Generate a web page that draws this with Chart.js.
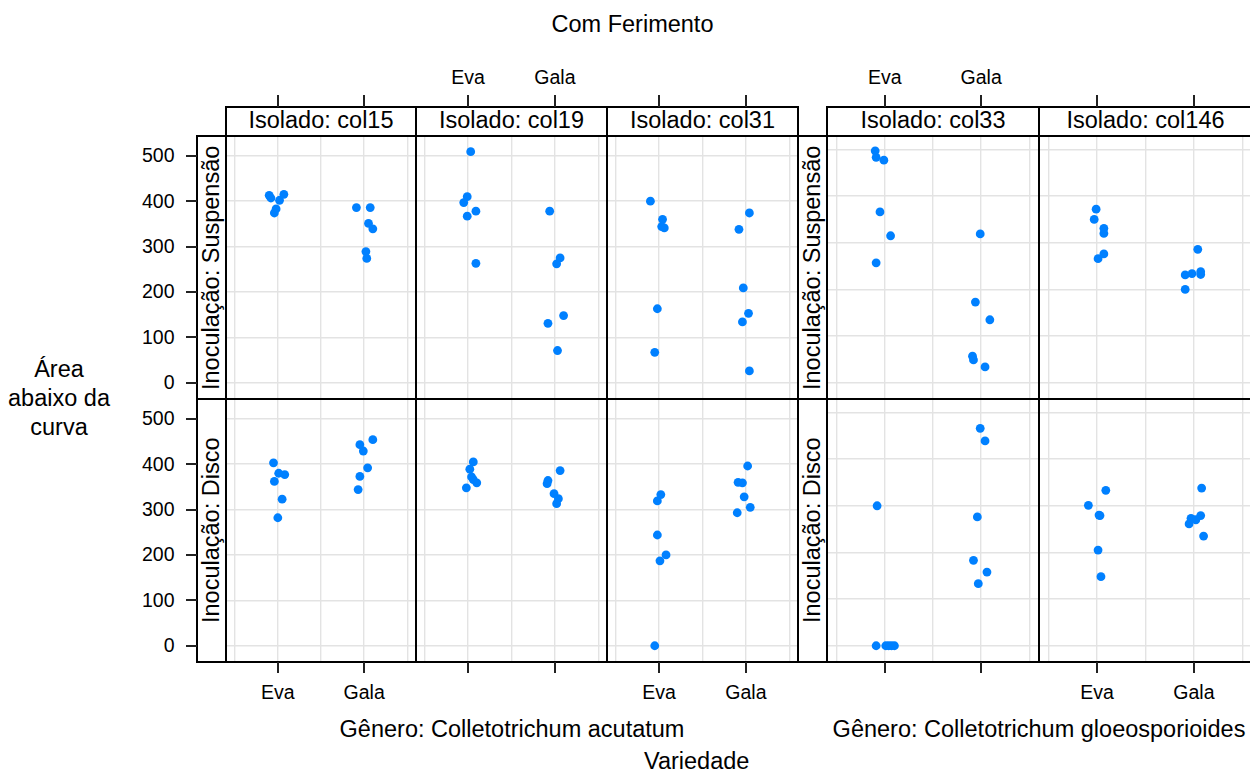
<!DOCTYPE html>
<html>
<head>
<meta charset="utf-8">
<script src="https://cdn.jsdelivr.net/npm/chart.js@4.4.1/dist/chart.umd.min.js"></script>
<style>
  body { margin: 0; background: #fff; overflow: hidden; width: 1250px; height: 774px; position: relative;
         font-family: "Liberation Sans", Arial, Helvetica, sans-serif; color: #000; }
  canvas { position: absolute; }
  .txt { position: absolute; white-space: nowrap; line-height: 1; }
  .box { position: absolute; border: 2px solid #000; box-sizing: border-box; }
  .tick { position: absolute; background: #222; }
  .vtxt { position: absolute; top: 0; height: 100%; writing-mode: vertical-rl; transform: rotate(180deg);
          text-align: center; white-space: nowrap; line-height: 1; }
</style>
</head>
<body>
<script>
// categories
const isolados = ['col15', 'col19', 'col31', 'col33', 'col146'];
const inoculacoes = ['Suspensão', 'Disco'];
const variedades = ['Eva', 'Gala'];
const generos = ['Gênero: Colletotrichum acutatum', 'Gênero: Colletotrichum gloeosporioides'];
const yTicks = [0, 100, 200, 300, 400, 500];
const xGrid = [0.5, 1, 1.5, 2, 2.5];

// values: first 6 = Eva, last 6 = Gala; *X = jittered position (Eva ~1, Gala ~2)
const suspCol15 = [413, 407, 415, 402, 383, 374, 386, 386, 351, 339, 289, 274];
const suspCol15X = [0.90, 0.92, 1.07, 1.02, 0.98, 0.96, 1.91, 2.07, 2.05, 2.10, 2.02, 2.03];
const suspCol19 = [509, 410, 397, 378, 367, 263, 378, 275, 262, 148, 131, 71];
const suspCol19X = [1.03, 0.99, 0.95, 1.09, 0.99, 1.09, 1.94, 2.06, 2.02, 2.10, 1.92, 2.03];
const suspCol31 = [400, 360, 344, 341, 163, 67, 374, 338, 209, 153, 134, 26];
const suspCol31X = [0.90, 1.04, 1.03, 1.06, 0.98, 0.95, 2.04, 1.92, 1.97, 2.03, 1.96, 2.04];
const suspCol33 = [497, 483, 477, 366, 315, 257, 319, 173, 135, 57, 49, 34];
const suspCol33X = [0.90, 0.91, 0.99, 0.95, 1.06, 0.91, 1.99, 1.94, 2.09, 1.91, 1.92, 2.04];
const suspCol146 = [372, 350, 331, 320, 276, 266, 286, 231, 234, 238, 232, 200];
const suspCol146X = [0.99, 0.97, 1.07, 1.07, 1.07, 1.01, 2.04, 1.91, 1.98, 2.07, 2.07, 1.91];

const discoCol15 = [403, 380, 377, 362, 323, 282, 454, 443, 429, 392, 373, 344];
const discoCol15X = [0.95, 1.01, 1.08, 0.96, 1.05, 1.00, 2.10, 1.95, 1.99, 2.04, 1.95, 1.93];
const discoCol19 = [405, 389, 372, 366, 359, 348, 386, 364, 357, 335, 324, 313];
const discoCol19X = [1.06, 1.02, 1.04, 1.06, 1.10, 0.98, 2.06, 1.92, 1.91, 1.99, 2.04, 2.02];
const discoCol31 = [333, 319, 244, 200, 187, 0, 396, 360, 359, 328, 305, 293];
const discoCol31X = [1.02, 0.98, 0.98, 1.08, 1.01, 0.95, 2.02, 1.91, 1.96, 1.98, 2.05, 1.90];
const discoCol33 = [300, 0, 0, 0, 0, 0, 466, 439, 276, 183, 158, 133];
const discoCol33X = [0.92, 0.91, 1.01, 1.04, 1.07, 1.10, 1.99, 2.04, 1.96, 1.92, 2.06, 1.97];
const discoCol146 = [333, 301, 280, 279, 205, 148, 338, 279, 273, 270, 261, 235];
const discoCol146X = [1.09, 0.91, 1.02, 1.03, 1.01, 1.04, 2.08, 2.07, 1.97, 2.02, 1.95, 2.10];

const panelY = [
  [suspCol15, suspCol19, suspCol31, suspCol33, suspCol146],
  [discoCol15, discoCol19, discoCol31, discoCol33, discoCol146]
];
const panelX = [
  [suspCol15X, suspCol19X, suspCol31X, suspCol33X, suspCol146X],
  [discoCol15X, discoCol19X, discoCol31X, discoCol33X, discoCol146X]
];

// layout
const FS = 23.5;      // main text size
const FS_TICK = 19.5; // tick labels
const rowEdges = [136, 399, 662];
const groups = [
  { cols: [0, 1, 2], edges: [226, 416, 607, 798], yMin: -35.8, yMax: 543.6, stripLeft: 197, labelX: 512, yAxis: true },
  { cols: [3, 4], edges: [827, 1039, 1252], yMin: -34.8, yMax: 528.8, stripLeft: 798, labelX: 1039, yAxis: false }
];
const topLabelCols = [1, 3];
const bottomLabelCols = [0, 2, 4];

function addText(s, x, base, size, align) {
  const d = document.createElement('div');
  d.className = 'txt';
  d.textContent = s;
  d.style.fontSize = size + 'px';
  d.style.top = (base - 0.8465 * size) + 'px';
  d.style.left = x + 'px';
  d.style.transform = align === 'right' ? 'translateX(-100%)' : 'translateX(-50%)';
  document.body.appendChild(d);
}

function addBox(x0, y0, x1, y1, bg) {
  const d = document.createElement('div');
  d.className = 'box';
  d.style.left = (x0 - 1) + 'px';
  d.style.top = (y0 - 1) + 'px';
  d.style.width = (x1 - x0 + 2) + 'px';
  d.style.height = (y1 - y0 + 2) + 'px';
  if (bg) d.style.background = bg;
  document.body.appendChild(d);
  return d;
}

function addTick(x, y, w, h) {
  const d = document.createElement('div');
  d.className = 'tick';
  d.style.left = x + 'px';
  d.style.top = y + 'px';
  d.style.width = w + 'px';
  d.style.height = h + 'px';
  document.body.appendChild(d);
}

function makePanel(left, top, w, h, xs, ys, yMin, yMax) {
  const cv = document.createElement('canvas');
  cv.width = w;
  cv.height = h;
  cv.style.left = left + 'px';
  cv.style.top = top + 'px';
  document.body.appendChild(cv);
  const gridOpts = { color: '#e3e3e3', lineWidth: 1.4, drawTicks: false };
  return new Chart(cv, {
    type: 'scatter',
    data: {
      datasets: [{
        data: xs.map((x, i) => ({ x: x, y: ys[i] })),
        backgroundColor: '#0080ff',
        borderWidth: 0,
        pointRadius: 4.4,
        pointHoverRadius: 4.4,
        clip: false
      }]
    },
    options: {
      responsive: false,
      animation: false,
      devicePixelRatio: 1,
      events: [],
      layout: { padding: 0, autoPadding: false },
      plugins: { legend: { display: false }, tooltip: { enabled: false } },
      scales: {
        x: {
          type: 'linear', min: 0.4, max: 2.6,
          afterBuildTicks: s => { s.ticks = xGrid.map(v => ({ value: v })); },
          afterFit: s => { s.height = 0; },
          ticks: { display: false },
          grid: gridOpts,
          border: { display: false }
        },
        y: {
          type: 'linear', min: yMin, max: yMax,
          afterBuildTicks: s => { s.ticks = yTicks.map(v => ({ value: v })); },
          afterFit: s => { s.width = 0; },
          ticks: { display: false },
          grid: gridOpts,
          border: { display: false }
        }
      }
    }
  });
}

// panels
const charts = {};
groups.forEach(g => {
  g.cols.forEach((c, k) => {
    const x0 = g.edges[k], x1 = g.edges[k + 1];
    for (let r = 0; r < 2; r++) {
      const y0 = rowEdges[r], y1 = rowEdges[r + 1];
      charts[r + '_' + c] = makePanel(x0, y0, x1 - x0, y1 - y0, panelX[r][c], panelY[r][c], g.yMin, g.yMax);
    }
  });
});

// frames, strips, ticks
groups.forEach((g, gi) => {
  g.cols.forEach((c, k) => {
    const x0 = g.edges[k], x1 = g.edges[k + 1];
    for (let r = 0; r < 2; r++) addBox(x0, rowEdges[r], x1, rowEdges[r + 1]);
    // top strip
    addBox(x0, 107, x1, rowEdges[0], '#fff');
    addText('Isolado: ' + isolados[c], (x0 + x1) / 2, 129.3, FS);
    // x ticks from the panel scale
    const sx = charts['0_' + c].scales.x;
    variedades.forEach((v, vi) => {
      const px = x0 + sx.getPixelForValue(vi + 1);
      addTick(px - 1, 95, 2, 12);
      addTick(px - 1, 662, 2, 11);
      if (topLabelCols.includes(c)) addText(v, px, 85, FS_TICK);
      if (bottomLabelCols.includes(c)) addText(v, px, 699.3, FS_TICK);
    });
  });

  // left strips
  for (let r = 0; r < 2; r++) {
    const y0 = rowEdges[r], y1 = rowEdges[r + 1];
    const b = addBox(g.stripLeft, y0, g.edges[0], y1, '#fff');
    const inner = document.createElement('div');
    inner.className = 'vtxt';
    inner.style.fontSize = FS + 'px';
    inner.style.width = FS + 'px';
    inner.style.left = ((g.edges[0] - g.stripLeft - 2 - FS) / 2) + 'px';
    inner.textContent = 'Inoculação: ' + inoculacoes[r];
    b.appendChild(inner);
  }

  // y axis (left group only)
  if (g.yAxis) {
    for (let r = 0; r < 2; r++) {
      const sy = charts[r + '_' + g.cols[0]].scales.y;
      yTicks.forEach(v => {
        const py = rowEdges[r] + sy.getPixelForValue(v);
        addTick(186, py - 1, 11, 2);
        addText(String(v), 174.5, py + 7, FS_TICK, 'right');
      });
    }
  }

  addText(generos[gi], g.labelX, 738.3, FS);
});

// titles
addText('Com Ferimento', 632.5, 32.7, FS);
addText('Área', 59, 378.3, FS);
addText('abaixo da', 59, 407.3, FS);
addText('curva', 59, 435.5, FS);
addText('Variedade', 696.7, 770, FS);
</script>
</body>
</html>
